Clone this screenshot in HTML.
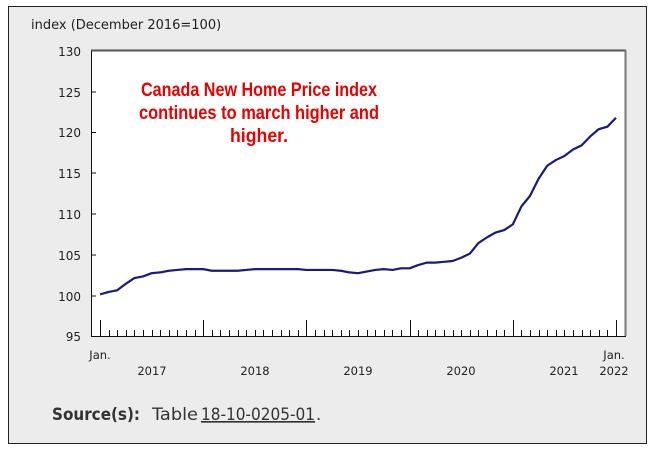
<!DOCTYPE html>
<html><head><meta charset="utf-8"><style>
body{margin:0;background:#fff;width:660px;height:450px;overflow:hidden;font-family:"DejaVu Sans","Liberation Sans",sans-serif;}
</style></head><body>
<svg width="660" height="450" xmlns="http://www.w3.org/2000/svg" style="position:absolute;left:0;top:0">
<rect x="8.5" y="6.5" width="638" height="437" fill="#ececec" stroke="#222" stroke-width="1"/>
<text x="31" y="29" font-size="13" fill="#222" font-family="DejaVu Sans, sans-serif">index (December 2016=100)</text>
<rect x="91" y="51" width="534" height="285" fill="#fff"/>
<line x1="91" y1="50.5" x2="626" y2="50.5" stroke="#555" stroke-width="2"/>
<line x1="625.5" y1="50" x2="625.5" y2="336" stroke="#777" stroke-width="2"/>
<line x1="91.5" y1="51" x2="91.5" y2="337" stroke="#111" stroke-width="1"/>
<line x1="91" y1="336.5" x2="626" y2="336.5" stroke="#111" stroke-width="1"/>
<g stroke="#111" stroke-width="1">
<line x1="91" y1="92" x2="96" y2="92"/><line x1="91" y1="132.5" x2="96" y2="132.5"/><line x1="91" y1="173" x2="96" y2="173"/><line x1="91" y1="214" x2="96" y2="214"/><line x1="91" y1="255" x2="96" y2="255"/><line x1="91" y1="296" x2="96" y2="296"/>
</g>
<g font-size="12" fill="#222" text-anchor="end" font-family="DejaVu Sans, sans-serif">
<text x="81" y="56">130</text><text x="81" y="97">125</text><text x="81" y="137">120</text><text x="81" y="178">115</text><text x="81" y="219">110</text><text x="81" y="260">105</text><text x="81" y="301">100</text><text x="81" y="341">95</text>
</g>
<g id="ticks" stroke="#111" stroke-width="1"></g>
<g font-size="11.5" fill="#222" text-anchor="middle" font-family="DejaVu Sans, sans-serif">
<text x="100" y="359">Jan.</text>
<text x="152" y="375">2017</text><text x="255" y="375">2018</text><text x="358" y="375">2019</text><text x="461" y="375">2020</text><text x="564" y="375">2021</text>
<text x="614" y="359">Jan.</text><text x="614" y="375">2022</text>
</g>
<polyline vector-effect="non-scaling-stroke" fill="none" stroke="#1a1a78" stroke-width="2.2" stroke-linejoin="round" transform="translate(100,1110) scale(8.6,-8.14)" points="0,100.2 1,100.5 2,100.7 3,101.5 4,102.2 5,102.4 6,102.8 7,102.9 8,103.1 9,103.2 10,103.3 11,103.3 12,103.3 13,103.1 14,103.1 15,103.1 16,103.1 17,103.2 18,103.3 19,103.3 20,103.3 21,103.3 22,103.3 23,103.3 24,103.2 25,103.2 26,103.2 27,103.2 28,103.1 29,102.9 30,102.8 31,103.0 32,103.2 33,103.3 34,103.2 35,103.4 36,103.4 37,103.8 38,104.1 39,104.1 40,104.2 41,104.3 42,104.7 43,105.2 44,106.5 45,107.2 46,107.8 47,108.1 48,108.8 49,111.0 50,112.3 51,114.4 52,116.0 53,116.7 54,117.2 55,118.0 56,118.5 57,119.6 58,120.5 59,120.8 60,121.9"/>
<g font-family="Liberation Sans Narrow, Liberation Sans, sans-serif" font-weight="bold" font-size="19" fill="#e00000" text-anchor="middle">
<text x="259" y="96" textLength="236" lengthAdjust="spacingAndGlyphs">Canada New Home Price index</text>
<text x="259" y="119" textLength="240" lengthAdjust="spacingAndGlyphs">continues to march higher and</text>
<text x="259" y="142" textLength="58" lengthAdjust="spacingAndGlyphs">higher.</text>
</g>
<g font-size="16.5" fill="#333" font-family="DejaVu Sans, sans-serif">
<text x="52" y="420" font-weight="bold" textLength="88" lengthAdjust="spacingAndGlyphs">Source(s):</text>
<text x="152" y="420" textLength="46" lengthAdjust="spacingAndGlyphs">Table</text>
<text x="201" y="420" text-decoration="underline" textLength="114" lengthAdjust="spacingAndGlyphs">18-10-0205-01</text>
<text x="316" y="420">.</text>
</g>
</svg>
<script>
var g=document.getElementById('ticks'),s='';
for(var i=0;i<=60;i++){var x=Math.round(100+i*8.6)+0.5;var big=(i%12==0);var y1=big?320:330;
s+='<line x1="'+x+'" y1="'+y1+'" x2="'+x+'" y2="336"/>';}
g.innerHTML=s;
</script>
</body></html>
